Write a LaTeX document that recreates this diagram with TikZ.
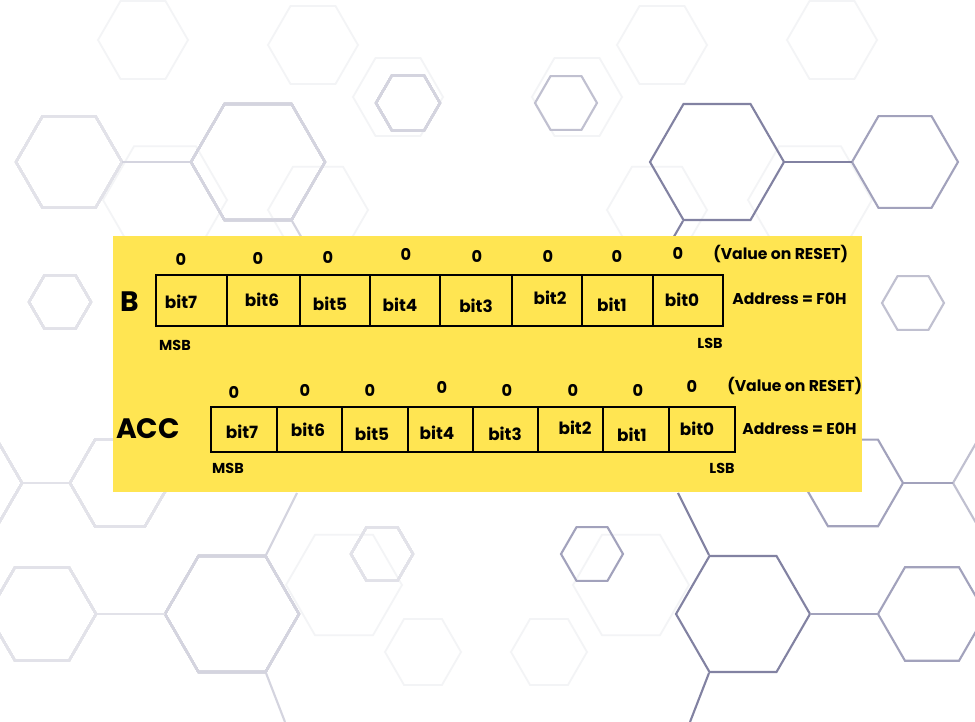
\documentclass[tikz,border=0pt]{standalone}
\usepackage{fontspec}
\setmainfont{Poppins}
\usepackage{tikz}
\usetikzlibrary{positioning}
\definecolor{regyellow}{HTML}{FFE552}
\definecolor{hexdark}{HTML}{8282A2}
\definecolor{hexmid}{HTML}{A2A2BC}
\definecolor{hexsoft}{HTML}{C0C0D0}
\definecolor{hexlight}{HTML}{D4D4DF}
\definecolor{hexpale}{HTML}{E2E2E9}
\definecolor{hexfaint}{HTML}{F3F4F6}

% one flat-topped hexagon: centre x, centre y, radius, style
\newcommand{\hexcell}[4]{\draw[#4] (#1,#2) ++(0:#3) -- ++(120:#3) -- ++(180:#3) -- ++(240:#3) -- ++(300:#3) -- ++(0:#3) -- cycle;}

\begin{document}
\begin{tikzpicture}[x=0.02cm, y=-0.02cm,
  hexline/.style={line width=1.2pt},
  cell/.style={draw=black, line width=1.6pt},
  bitlbl/.style={inner sep=0pt, font=\bfseries\fontsize{9.6}{11}\selectfont},
  rstval/.style={inner sep=0pt, font=\bfseries\fontsize{9.2}{10}\selectfont},
  sidelbl/.style={inner sep=0pt, font=\bfseries\fontsize{8.9}{10}\selectfont},
  endlbl/.style={inner sep=0pt, font=\bfseries\fontsize{8.2}{10}\selectfont},
  regname/.style={inner sep=0pt, font=\bfseries\fontsize{16}{18}\selectfont}]
 \useasboundingbox (0,0) rectangle (975,722);
 \fill[white] (0,0) rectangle (975,722);
 % faint honeycomb in the back
 \foreach \cx/\cy/\r in {143/40/45, 313/45/45, 398/97/45, 165/200/62, 318/210/50,
   344/585/58, 423/652/38, 832/40/45, 662/45/45, 577/97/45, 810/200/62, 657/210/50,
   631/585/58, 549/652/38}
   \hexcell{\cx}{\cy}{\r}{hexfaint, line width=1pt}
 % visible hexagons, left half
 \hexcell{69}{162}{53}{hexpale, hexline}
 \hexcell{258}{162}{67}{hexlight, hexline}
 \hexcell{408}{103}{32}{hexlight, hexline}
 \hexcell{60}{302}{31}{hexpale, hexline}
 \hexcell{120}{483}{50}{hexpale, hexline}
 \hexcell{-28}{483}{50}{hexpale, hexline}
 \hexcell{232}{614}{67}{hexlight, hexline}
 \hexcell{42}{614}{54}{hexpale, hexline}
 \hexcell{382}{554}{31}{hexpale, hexline}
 \draw[hexlight, hexline] (122,162) -- (191,162);
 \draw[hexpale, hexline] (96,614) -- (165,614);
 \draw[hexpale, hexline] (22,483) -- (70,483);
 \draw[hexlight, hexline] (297,493) -- (266,555);
 \draw[hexlight, hexline] (292,221) -- (303,240);
 \draw[hexlight, hexline] (266,673) -- (285,722);
 % visible hexagons, right half
 \hexcell{717}{162}{67}{hexdark, hexline}
 \hexcell{905}{162}{53}{hexmid, hexline}
 \hexcell{566}{103}{31}{hexsoft, hexline}
 \hexcell{913}{303}{31}{hexsoft, hexline}
 \hexcell{853}{483}{50}{hexmid, hexline}
 \hexcell{1003}{483}{50}{hexsoft, hexline}
 \hexcell{743}{614}{67}{hexdark, hexline}
 \hexcell{932}{614}{54}{hexmid, hexline}
 \hexcell{592}{554}{31}{hexmid, hexline}
 \draw[hexdark, hexline] (784,162) -- (852,162);
 \draw[hexmid, hexline] (810,614) -- (878,614);
 \draw[hexmid, hexline] (903,483) -- (953,483);
 \draw[hexdark, hexline] (678,493) -- (709,555);
 \draw[hexdark, hexline] (683,221) -- (672,240);
 \draw[hexdark, hexline] (709,673) -- (690,722);

 % yellow panel
 \fill[regyellow] (113,236) rectangle (862,492);

 % register B
 \draw[cell] (156,275) rectangle (723,326);
 \foreach \xd in {227,300,370,440,512,582,653} \draw[cell] (\xd,275) -- (\xd,326);
 \foreach \i/\xx/\yy in {7/181/302, 6/262/300, 5/330/304, 4/400/305, 3/476/306, 2/550/298, 1/612/305, 0/682/300}
   \node[bitlbl] (bbit\i) at (\xx,\yy) {bit\i};
 \foreach \i/\xx/\yy in {7/181/259, 6/258/258, 5/328/257, 4/406/254, 3/477/256, 2/548/256, 1/617/256, 0/678/253}
   \node[rstval] (brst\i) at (\xx,\yy) {0};
 \node[regname] (nameB) at (130,302) {B};
 \node[endlbl] (msbB) at (175,345) {MSB};
 \node[endlbl] (lsbB) at (710,343) {LSB};
 \node[sidelbl, anchor=west] (rstB) at (713,254) {(Value on RESET)};
 \node[sidelbl, anchor=west] (addrB) at (732,299) {Address = F0H};

 % register ACC
 \draw[cell] (211,407) rectangle (735,452);
 \foreach \xd in {277,342,408,473,538,603,669} \draw[cell] (\xd,407) -- (\xd,452);
 \foreach \i/\xx/\yy in {7/242/432, 6/308/430, 5/372/434, 4/437/433, 3/505/434, 2/575/428, 1/632/435, 0/697/429}
   \node[bitlbl] (abit\i) at (\xx,\yy) {bit\i};
 \foreach \i/\xx/\yy in {7/234/392, 6/305/390, 5/370/390, 4/442/387, 3/507/390, 2/573/390, 1/638/390, 0/692/386}
   \node[rstval] (arst\i) at (\xx,\yy) {0};
 \node[regname] (nameACC) at (148,429) {ACC};
 \node[endlbl] (msbA) at (228,468) {MSB};
 \node[endlbl] (lsbA) at (722,468) {LSB};
 \node[sidelbl, anchor=west] (rstA) at (727,386) {(Value on RESET)};
 \node[sidelbl, anchor=west] (addrA) at (742,429) {Address = E0H};
\end{tikzpicture}
\end{document}
